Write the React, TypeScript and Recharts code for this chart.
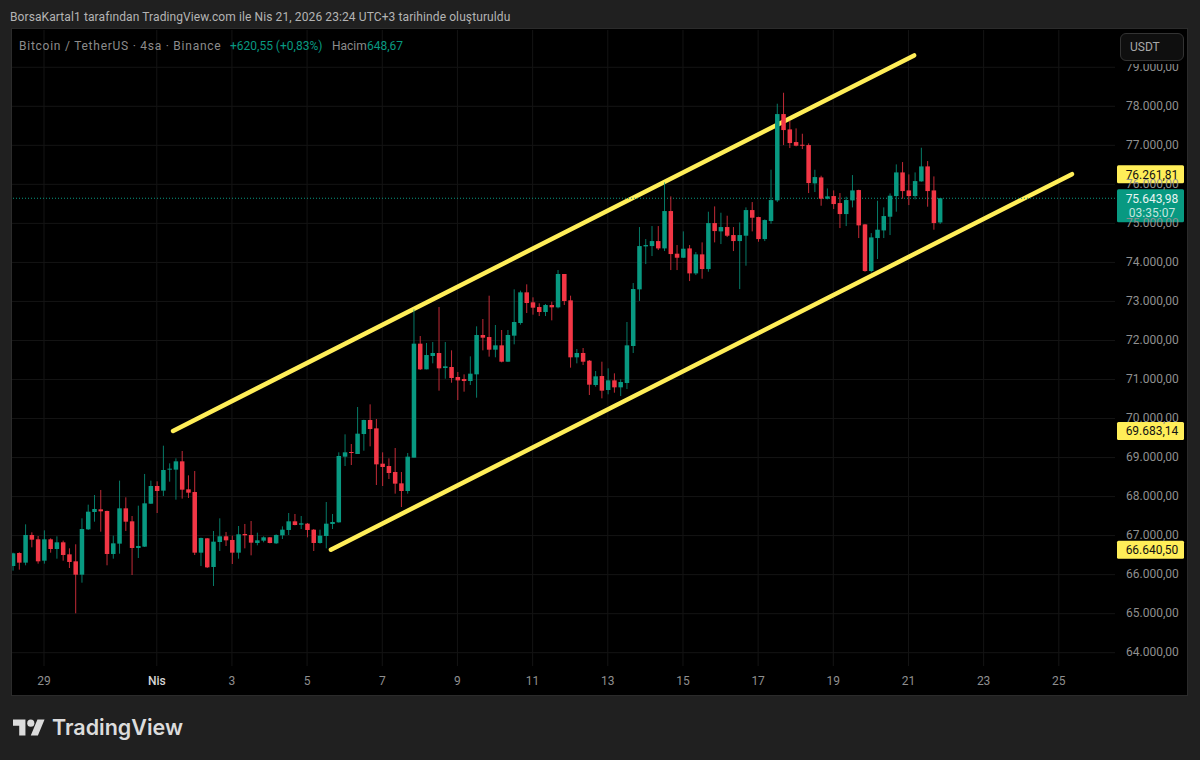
import React from 'react';
import {
  ComposedChart,
  Bar,
  XAxis,
  YAxis,
  CartesianGrid,
  ReferenceLine,
  ReferenceDot,
} from 'recharts';

// 4h BTC/USDT candles, index 0 = first visible candle
const opens = [
  66221, 66554, 66307, 67016, 66905, 66358, 66905, 66657, 66828, 66520,
  66341, 65999, 67161, 67605, 67673, 67631, 66529, 66794, 67699, 67366,
  66683, 66717, 67818, 68271, 68152, 68690, 68690, 68903, 68186, 68117,
  66563, 66930, 66196, 66836, 66982, 66888, 66563, 67041, 67016, 66811,
  66871, 66956, 66802, 67007, 67144, 67366, 67280, 67306, 67152, 66811,
  66990, 67298, 67340, 69023, 69142, 69091, 69603, 69962, 69748, 68843,
  68783, 68630, 68339, 68143, 68997, 71918, 71260, 71602, 71679, 71294,
  71320, 71064, 71012, 70961, 71132, 72140, 72088, 71764, 71875, 71456,
  72123, 72447, 73233, 72977, 72857, 72729, 72908, 72849, 73703, 73028,
  71568, 71679, 71482, 70859, 71089, 70731, 70978, 70799, 70910, 71858,
  73309, 74411, 74419, 74547, 74359, 75316, 74223, 74120, 74359, 73719,
  74206, 73830, 75008, 74795, 74906, 74701, 74547, 74684, 75341, 75162,
  74598, 75060, 75589, 77801, 77408, 77084, 77015, 77007, 76025, 76178,
  75632, 75700, 75521, 75239, 75589, 75854, 74974, 73779, 74624, 74820,
  75171, 75700, 76306, 75845, 75700, 76076, 76460, 75845, 75023.43,
];
const highs = [
  66563, 66572, 67289, 67084, 66990, 67135, 66930, 66982, 66871, 66674,
  66777, 67443, 67793, 68040, 68169, 67639, 66999, 68408, 67981, 67502,
  67767, 68579, 68408, 68391, 69304, 68852, 68980, 69168, 68544, 68655,
  66948, 66939, 67118, 67443, 67093, 66999, 67246, 67298, 67374, 67075,
  66982, 66964, 67033, 67238, 67579, 67554, 67502, 67323, 67169, 67152,
  67861, 67554, 69134, 69595, 69347, 70295, 69970, 70363, 69988, 69134,
  68980, 69245, 68630, 69117, 72797, 72114, 71935, 71960, 72857, 71960,
  71747, 71192, 71132, 71593, 72362, 72550, 73147, 72396, 72268, 72268,
  73310, 73276, 73438, 73105, 72951, 72934, 72994, 73805, 73703, 73147,
  71781, 71807, 71499, 71217, 71456, 71286, 71158, 71004, 72473, 73472,
  74906, 74598, 74931, 74931, 76050, 75692, 74445, 74795, 74445, 74265,
  74513, 75299, 75435, 75273, 75196, 74906, 75025, 75410, 75546, 75171,
  75102, 76375, 78066, 78347, 77630, 77434, 77297, 77049, 76375, 76221,
  75896, 75845, 75777, 75683, 76238, 75863, 74983, 74752, 75581, 75410,
  75768, 76511, 76571, 76255, 76306, 76938, 76597, 76204, 75649,
];
const lows = [
  66102, 66128, 66239, 66700, 66281, 66281, 66563, 66409, 66358, 66170,
  65009, 65794, 67144, 67357, 67101, 66239, 66409, 66537, 67118, 65991,
  66426, 66708, 67810, 67579, 68015, 68382, 67921, 67947, 67964, 66503,
  66221, 66170, 65709, 66606, 66734, 66273, 66409, 66674, 66495, 66751,
  66828, 66802, 66785, 66913, 67016, 67263, 67169, 66956, 66606, 66794,
  66674, 67169, 67332, 68783, 68809, 69091, 69176, 69287, 68297, 68271,
  68450, 68075, 67733, 68075, 68997, 71243, 71260, 71414, 70714, 71021,
  70918, 70474, 70688, 70859, 70534, 71747, 71585, 71568, 71439, 71448,
  71901, 72404, 72703, 72661, 72626, 72626, 72515, 72823, 72908, 71303,
  71414, 71371, 70602, 70816, 70517, 70620, 70662, 70577, 70756, 71679,
  73011, 73958, 74163, 74317, 74291, 73804, 73804, 74112, 73522, 73676,
  73582, 73761, 74513, 74470, 74650, 74291, 73317, 73915, 74795, 74530,
  74547, 74991, 75546, 77007, 76930, 76973, 76904, 75777, 75803, 75452,
  75615, 75367, 74880, 74931, 75410, 74624, 73761, 73744, 74086, 74624,
  74701, 75299, 75632, 75469, 75615, 76067, 75427, 74838, 74983,
];
const closes = [
  66546, 66307, 67016, 66896, 66341, 66905, 66657, 66828, 66503, 66324,
  65999, 67169, 67613, 67682, 67622, 66529, 66802, 67699, 67357, 66683,
  66734, 67827, 68271, 68143, 68681, 68715, 68903, 68177, 68100, 66563,
  66939, 66187, 66845, 66982, 66879, 66563, 67033, 67007, 66819, 66879,
  66956, 66811, 67016, 67152, 67366, 67272, 67315, 67144, 66811, 66999,
  67306, 67349, 69040, 69134, 69117, 69612, 69962, 69731, 68826, 68758,
  68604, 68331, 68143, 69023, 71918, 71260, 71627, 71679, 71286, 71337,
  71038, 70978, 70961, 71149, 72140, 72071, 71764, 71875, 71456, 72140,
  72473, 73233, 72960, 72840, 72729, 72908, 72849, 73703, 73011, 71568,
  71679, 71456, 70867, 71081, 70714, 70978, 70799, 70936, 71875, 73318,
  74419, 74445, 74547, 74359, 75316, 74214, 74120, 74351, 73719, 74206,
  73830, 75008, 74803, 74906, 74684, 74547, 74701, 75341, 75145, 74598,
  75085, 75598, 77801, 77391, 77058, 76990, 76990, 76033, 76187, 75632,
  75692, 75495, 75239, 75598, 75845, 74949, 73779, 74641, 74838, 75188,
  75709, 76306, 75828, 75700, 76084, 76460, 75828, 75008, 75643.98,
];

const priceTicks = [
  64000, 65000, 66000, 67000, 68000, 69000, 70000, 71000, 72000, 73000, 74000,
  75000, 76000, 77000, 78000, 79000,
];
const dayTicks = [5, 23, 35, 47, 59, 71, 83, 95, 107, 119, 131, 143, 155, 167];
const dayLabels = ['29', 'Nis', '3', '5', '7', '9', '11', '13', '15', '17', '19', '21', '23', '25'];

const upperChannel = [
  { x: 25.6, y: 69683.14 },
  { x: 143.9, y: 79304.45 },
];
const lowerChannel = [
  { x: 50.8, y: 66640.5 },
  { x: 169.1, y: 76261.81 },
];
const drawingTags = [76261.81, 69683.14, 66640.5];
const lastPrice = 75643.98;
const countdown = '03:35:07';

const UP = '#089981';
const DOWN = '#F23645';
const YELLOW = '#FFEE58';
const FONT = 'Roboto, sans-serif';
const X_MIN = -0.11;
const X_MAX = 175.97;

const data = opens.map((open, idx) => ({
  idx,
  open,
  high: highs[idx],
  low: lows[idx],
  close: closes[idx],
  range: [lows[idx], highs[idx]],
}));

const fmt = (n: number) =>
  n.toFixed(2).replace('.', ',').replace(/\B(?=(\d{3})+(?!\d))/g, '.');

const Candle = (props: any) => {
  const { x, y, width, height, payload } = props;
  const { open, high, low, close } = payload;
  const perUnit = height / (high - low);
  const cx = x + width / 2;
  const color = close >= open ? UP : DOWN;
  const bodyTop = y + (high - Math.max(open, close)) * perUnit;
  const bodyH = Math.max(Math.abs(close - open) * perUnit, 1);
  return (
    <g>
      <line x1={cx} x2={cx} y1={y} y2={y + height} stroke={color} strokeOpacity={0.8} />
      <rect x={cx - 2.25} y={bodyTop} width={4.5} height={bodyH} fill={color} />
    </g>
  );
};

const PriceTag = (props: any) => {
  const { cx, cy, value } = props;
  return (
    <g>
      <rect x={cx + 2} y={cy - 9} width={67} height={18} rx={1.5} fill={YELLOW} />
      <text x={cx + 37} y={cy + 4.5} textAnchor="middle" fontSize={12} fontFamily={FONT} fill="#131313">
        {fmt(value)}
      </text>
    </g>
  );
};

const LastPriceTag = (props: any) => {
  const { cx, cy } = props;
  return (
    <g>
      <rect x={cx + 2} y={cy - 9} width={67} height={33} rx={1.5} fill={UP} />
      <text x={cx + 37} y={cy + 4.5} textAnchor="middle" fontSize={12} fontFamily={FONT} fill="#e8f5f2">
        {fmt(lastPrice)}
      </text>
      <text x={cx + 37} y={cy + 19} textAnchor="middle" fontSize={12} fontFamily={FONT} fill="#c4e6df">
        {countdown}
      </text>
    </g>
  );
};

const DayTick = (props: any) => {
  const { x, y, payload } = props;
  const label = dayLabels[dayTicks.indexOf(payload.value)];
  const isMonth = label === 'Nis';
  return (
    <text
      x={x}
      y={y + 11}
      textAnchor="middle"
      fontSize={12}
      fontFamily={FONT}
      fontWeight={isMonth ? 500 : 400}
      fill={isMonth ? '#d6d6d6' : '#8f8f8f'}
    >
      {label}
    </text>
  );
};

const textBase: React.CSSProperties = {
  position: 'absolute',
  whiteSpace: 'nowrap',
  fontFamily: FONT,
  fontSize: 12,
  lineHeight: '14px',
};

const App = () => (
  <div style={{ position: 'absolute', left: 0, top: 0, width: 1200, height: 760, background: '#202020', overflow: 'hidden' }}>
    <div style={{ position: 'absolute', left: 11, top: 28, width: 1177, height: 668, background: '#000', border: '1px solid #2b2b2b', boxSizing: 'border-box' }} />
    <ComposedChart
      width={1200}
      height={760}
      data={data}
      margin={{ top: 30, right: 12, bottom: 65, left: 12 }}
      style={{ position: 'absolute', left: 0, top: 0 }}
    >
      <CartesianGrid stroke="#141414" syncWithTicks />
      <XAxis
        dataKey="idx"
        type="number"
        domain={[X_MIN, X_MAX]}
        ticks={dayTicks}
        tick={<DayTick />}
        interval={0}
        height={29}
        axisLine={false}
        tickLine={false}
        allowDataOverflow
      />
      <YAxis
        orientation="right"
        width={73}
        domain={[63659, 79955]}
        ticks={priceTicks}
        interval={0}
        tickFormatter={fmt}
        tick={{ fill: '#8f8f8f', fontSize: 12, fontFamily: FONT, dy: -1 }}
        tickMargin={5}
        axisLine={false}
        tickLine={false}
        allowDataOverflow
      />
      <ReferenceLine segment={upperChannel} stroke={YELLOW} strokeWidth={4.5} strokeLinecap="round" ifOverflow="visible" />
      <ReferenceLine segment={lowerChannel} stroke={YELLOW} strokeWidth={4.5} strokeLinecap="round" ifOverflow="visible" />
      <ReferenceLine y={lastPrice} stroke={UP} strokeDasharray="1 2" />
      <Bar dataKey="range" barSize={5} shape={<Candle />} isAnimationActive={false} zIndex={1000} />
      {drawingTags.map((value) => (
        <ReferenceDot key={value} x={X_MAX} y={value} r={0} ifOverflow="visible" shape={(p: any) => <PriceTag {...p} value={value} />} />
      ))}
      <ReferenceDot x={X_MAX} y={lastPrice} r={0} ifOverflow="visible" shape={(p: any) => <LastPriceTag {...p} />} />
    </ComposedChart>

    <div style={{ ...textBase, left: 10, top: 10, color: '#b4b4b4', letterSpacing: 0.1 }}>
      BorsaKartal1 tarafından TradingView.com ile Nis 21, 2026 23:24 UTC+3 tarihinde oluşturuldu
    </div>
    <div style={{ ...textBase, left: 19, top: 39, color: '#8c8c8c', letterSpacing: 0.75 }}>Bitcoin / TetherUS · 4sa · Binance</div>
    <div style={{ ...textBase, left: 230, top: 39, color: UP }}>+620,55 (+0,83%)</div>
    <div style={{ ...textBase, left: 332, top: 39, color: '#8c8c8c' }}>Hacim</div>
    <div style={{ ...textBase, left: 367, top: 39, color: UP }}>648,67</div>
    <div style={{ ...textBase, left: 1120, top: 33, width: 64, height: 28, boxSizing: 'border-box', background: '#0f0f0f', border: '1px solid #333', borderRadius: 6, boxShadow: '0 2px 0 1px #000', color: '#a8a8a8', paddingLeft: 9, lineHeight: '26px' }}>
      USDT
    </div>

    <svg width={32} height={25} viewBox="0 0 36 28" style={{ position: 'absolute', left: 13, top: 716 }}>
      <path d="M14 22H7V11H0V4h14v18zM28 22h-8l7.5-18h8L28 22z" fill="#dcdcdc" />
      <circle cx={20} cy={8} r={4} fill="#dcdcdc" />
    </svg>
    <div style={{ ...textBase, left: 52, top: 713, fontFamily: 'Inter, sans-serif', fontSize: 21.5, fontWeight: 600, lineHeight: '28px', color: '#dcdcdc' }}>
      TradingView
    </div>
  </div>
);

export default App;
